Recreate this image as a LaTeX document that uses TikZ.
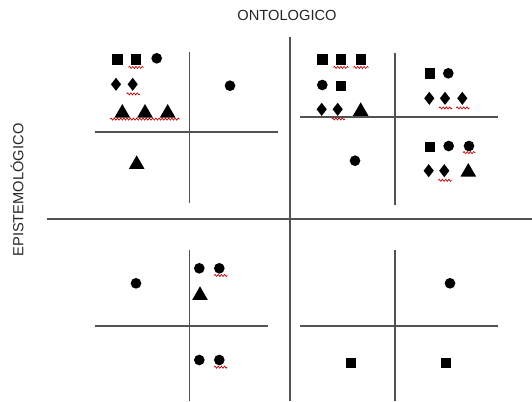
\documentclass[tikz,border=0pt]{standalone}
\usepackage{fontspec}
\setmainfont{Liberation Sans}
\usetikzlibrary{positioning,shapes.geometric,decorations.pathmorphing}
\tikzset{
  sq/.style={rectangle, fill=black, minimum size=7.8pt, inner sep=0pt},
  dot/.style={circle, fill=black, minimum size=8pt, inner sep=0pt},
  dia/.style={diamond, fill=black, minimum width=7.8pt, minimum height=10pt, inner sep=0pt},
  tri/.style={regular polygon, regular polygon sides=3, fill=black, minimum size=13.5pt, inner sep=0pt},
  axis/.style={draw=black!68, line width=1.3pt},
  subaxis/.style={draw=black!68, line width=1.2pt},
  squig/.style={draw=red!75!black, line width=0.5pt, decorate, decoration={snake, amplitude=0.8pt, segment length=2.4pt}},
  lbl/.style={font=\fontsize{11}{13}\selectfont, text=black!85}
}
\begin{document}
\begin{tikzpicture}[x=0.75pt, y=-0.75pt]
  \useasboundingbox (0,0) rectangle (532,401);
  % labels
  \node[lbl] (onto) at (287,15) {ONTOLOGICO};
  \node[lbl, rotate=90] (epis) at (17,190) {EPISTEMOLÓGICO};
  % main axes
  \coordinate (vtop) at (290,37);
  \coordinate (vbot) at (290,401);
  \coordinate (hlft) at (47,219);
  \coordinate (hrgt) at (532,219);
  \draw[axis] (vtop) -- (vbot);
  \draw[axis] (hlft) -- (hrgt);
  % quadrant axes
  \coordinate (q1t) at (189.3,51.7);  \coordinate (q1b) at (189.3,203.3);
  \coordinate (q1l) at (95,131.7);    \coordinate (q1r) at (278.3,131.7);
  \coordinate (q2t) at (395,52.7);    \coordinate (q2b) at (395,205);
  \coordinate (q2l) at (300,116.7);   \coordinate (q2r) at (498.3,116.7);
  \coordinate (q3t) at (189.3,250);   \coordinate (q3b) at (189.3,401);
  \coordinate (q3l) at (95,326);      \coordinate (q3r) at (268.3,326);
  \coordinate (q4t) at (395,250);     \coordinate (q4b) at (395,401);
  \coordinate (q4l) at (300,326);     \coordinate (q4r) at (498.3,326);
  \draw[subaxis] (q1t) -- (q1b); \draw[subaxis] (q1l) -- (q1r);
  \draw[subaxis] (q2t) -- (q2b); \draw[subaxis] (q2l) -- (q2r);
  \draw[subaxis] (q3t) -- (q3b); \draw[subaxis] (q3l) -- (q3r);
  \draw[subaxis] (q4t) -- (q4b); \draw[subaxis] (q4l) -- (q4r);

  % top left
  \node[sq] (q1s1) at (117.3,59.3) {};
  \node[sq] (q1s2) at (136,59.3) {};
  \node[dot] (q1c1) at (156.7,58.3) {};
  \node[dia] (q1d1) at (116,84.3) {};
  \node[dia] (q1d2) at (132.7,84.3) {};
  \node[tri] (q1t1) at (122.3,113) {};
  \node[tri] (q1t2) at (145,113) {};
  \node[tri] (q1t3) at (167.7,113) {};
  \node[dot] (q1c2) at (230,85.7) {};
  \node[tri] (q1t4) at (136.7,164.3) {};
  \draw[squig] ([xshift=-1.5pt,yshift=-2pt]q1s2.south west) -- ([xshift=1.5pt,yshift=-2pt]q1s2.south east);
  \draw[squig] ([yshift=-2pt]q1d2.south) ++(-4.5pt,0) -- ++(10pt,0);
  \draw[squig] ([xshift=-3pt,yshift=-1pt]q1t1.corner 2) -- ([xshift=3pt,yshift=-1pt]q1t3.corner 3);

  % top right
  \node[sq] (q2s1) at (322.3,59.3) {};
  \node[sq] (q2s2) at (341,59.3) {};
  \node[sq] (q2s3) at (361,59.3) {};
  \node[dot] (q2c1) at (322.3,85) {};
  \node[sq] (q2s4) at (341,85.7) {};
  \node[dia] (q2d1) at (321.7,109.3) {};
  \node[dia] (q2d2) at (337.7,109.3) {};
  \node[tri] (q2t1) at (360.7,111.3) {};
  \node[sq] (q2s5) at (430,73.3) {};
  \node[dot] (q2c2) at (448.3,73.3) {};
  \node[dia] (q2d3) at (429.3,98.3) {};
  \node[dia] (q2d4) at (445,98.3) {};
  \node[dia] (q2d5) at (462.3,98.3) {};
  \node[dot] (q2c3) at (355,160.7) {};
  \node[sq] (q2s6) at (430,146.7) {};
  \node[dot] (q2c4) at (448.7,146) {};
  \node[dot] (q2c5) at (469,146) {};
  \node[dia] (q2d6) at (428.7,170.7) {};
  \node[dia] (q2d7) at (444.3,170.7) {};
  \node[tri] (q2t2) at (468.3,172) {};
  \draw[squig] ([xshift=-1.5pt,yshift=-2pt]q2s2.south west) -- ([xshift=1.5pt,yshift=-2pt]q2s2.south east);
  \draw[squig] ([xshift=-1.5pt,yshift=-2pt]q2s3.south west) -- ([xshift=1.5pt,yshift=-2pt]q2s3.south east);
  \draw[squig] ([yshift=-2pt]q2d2.south) ++(-4.5pt,0) -- ++(10pt,0);
  \draw[squig] ([yshift=-2pt]q2d4.south) ++(-4.5pt,0) -- ++(10pt,0);
  \draw[squig] ([yshift=-2pt]q2d5.south) ++(-4.5pt,0) -- ++(10pt,0);
  \draw[squig] ([xshift=-1.5pt,yshift=-2pt]q2c5.south west) -- ([xshift=2pt,yshift=-2pt]q2c5.south east);
  \draw[squig] ([yshift=-2pt]q2d7.south) ++(-4.5pt,0) -- ++(10pt,0);

  % bottom left
  \node[dot] (q3c1) at (136,283.3) {};
  \node[dot] (q3c2) at (199.3,268.3) {};
  \node[dot] (q3c3) at (219.3,268.3) {};
  \node[tri] (q3t1) at (200,295.3) {};
  \node[dot] (q3c4) at (199.3,360) {};
  \node[dot] (q3c5) at (219.3,360) {};
  \draw[squig] ([xshift=-1pt,yshift=-2.4pt]q3c3.south west) -- ([xshift=3pt,yshift=-2.4pt]q3c3.south east);
  \draw[squig] ([xshift=-1pt,yshift=-2.4pt]q3c5.south west) -- ([xshift=3pt,yshift=-2.4pt]q3c5.south east);

  % bottom right
  \node[dot] (q4c1) at (450,283.3) {};
  \node[sq] (q4s1) at (350.7,362.7) {};
  \node[sq] (q4s2) at (446,362.7) {};
\end{tikzpicture}
\end{document}
